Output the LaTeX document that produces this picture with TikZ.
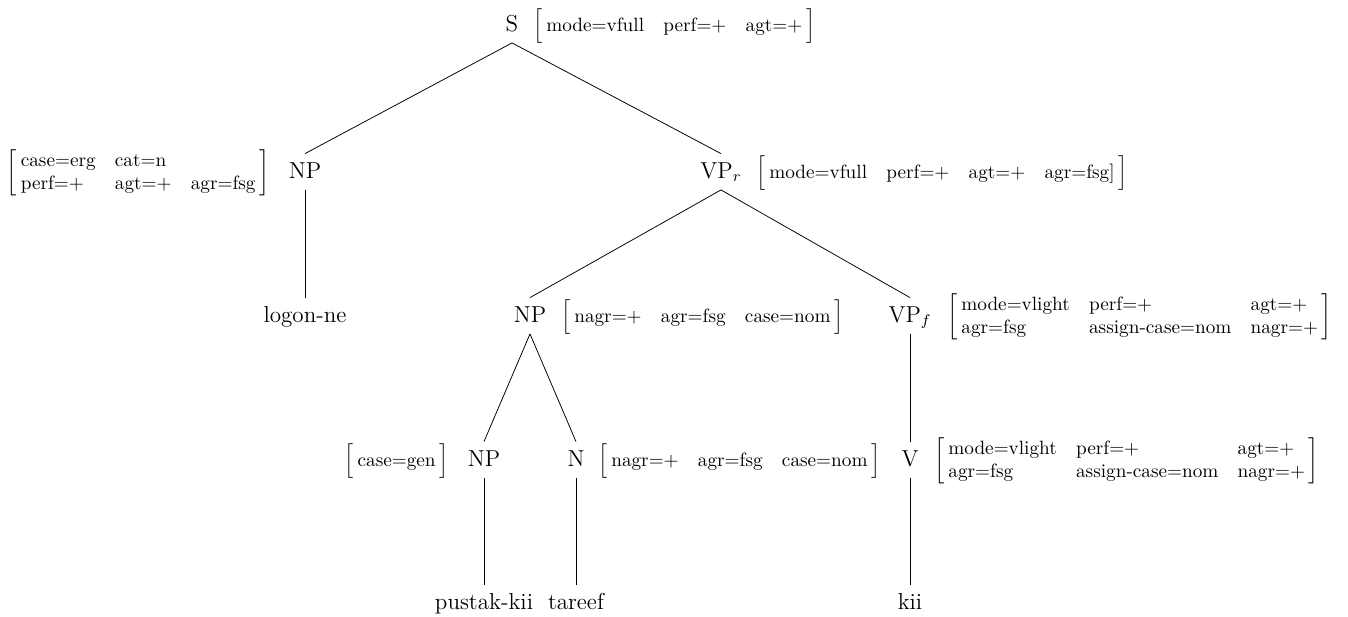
\documentclass[tikz,border=0pt]{standalone}
\begin{document}
\begin{tikzpicture}[x=0.52pt, y=-0.52pt]
\tikzset{tlab/.style={anchor=base, font=\large, inner sep=0pt, text height=12.5pt, text depth=6pt},
         fbox/.style={inner sep=0pt}}
\def\fstruct#1#2{$\left[\rule[-6pt]{0pt}{18pt}\begin{tabular}{@{\hspace{2pt}}#1@{\hspace{2pt}}}#2\end{tabular}\right]$}
\setlength{\tabcolsep}{5pt}
\useasboundingbox (0,0) rectangle (1348,616);
%% define coordinate grid
\def\yone{31}
\def\ytwo{178}
\def\ythree{322}
\def\yfour{466}
\def\yfive{609}
\def\faxis{5}

%% tree labels
\node[tlab] (S) at (512,\yone) {S};
\node[tlab] (np1) at (305,\ytwo) {NP};
\node[tlab] (vpr) at (721,\ytwo) {VP$_r$};
\node[tlab] (logon) at (305,\ythree) {logon-ne};
\node[tlab] (np2) at (530,\ythree) {NP};
\node[tlab] (vpf) at (910,\ythree) {VP$_f$};
\node[tlab] (np3) at (484,\yfour) {NP};
\node[tlab] (n) at (576,\yfour) {N};
\node[tlab] (v) at (910,\yfour) {V};
\node[tlab] (pustak) at (484,\yfive) {pustak-kii};
\node[tlab] (tareef) at (576,\yfive) {tareef};
\node[tlab] (kii) at (910,\yfive) {kii};

% branches
\draw (S.south) -- (np1.north);
\draw (S.south) -- (vpr.north);
\draw (np1.south) -- (logon.north);
\draw (vpr.south) -- (np2.north);
\draw (vpr.south) -- (vpf.north);
\draw (np2.south) -- (np3.north);
\draw (np2.south) -- (n.north);
\draw (vpf.south) -- (v.north);
\draw (np3.south) -- (pustak.north);
\draw (n.south) -- (tareef.north);
\draw (v.south) -- (kii.north);

%% feature structures
\node[fbox,anchor=west] (fS) at (533,\yone-\faxis) {\fstruct{lll}{mode=vfull & perf=+ & agt=+}};
\node[fbox,anchor=east] (fnp1) at (270,\ytwo-\faxis) {\fstruct{lll}{case=erg & cat=n & \\ perf=+ & agt=+ & agr=fsg}};
\node[fbox,anchor=west] (fvpr) at (756,\ytwo-\faxis) {\fstruct{llll}{mode=vfull & perf=+ & agt=+ & agr=fsg]}};
\node[fbox,anchor=west] (fnp2) at (561,\ythree-\faxis) {\fstruct{lll}{nagr=+ & agr=fsg & case=nom}};
\node[fbox,anchor=west] (fvpf) at (947,\ythree-\faxis) {\fstruct{lll}{mode=vlight & perf=+ & agt=+ \\ agr=fsg & assign-case=nom & nagr=+}};
\node[fbox,anchor=east] (fnp3) at (449,\yfour-\faxis) {\fstruct{l}{case=gen}};
\node[fbox,anchor=west] (fn) at (598,\yfour-\faxis) {\fstruct{lll}{nagr=+ & agr=fsg & case=nom}};
\node[fbox,anchor=west] (fv) at (934,\yfour-\faxis) {\fstruct{lll}{mode=vlight & perf=+ & agt=+ \\ agr=fsg & assign-case=nom & nagr=+}};
\end{tikzpicture}
\end{document}
